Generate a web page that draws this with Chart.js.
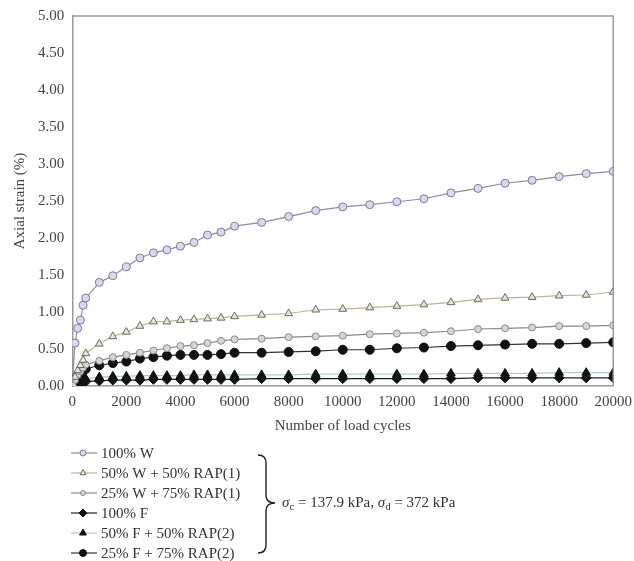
<!DOCTYPE html>
<html><head><meta charset="utf-8">
<script src="https://cdn.jsdelivr.net/npm/chart.js@4/dist/chart.umd.min.js"></script>
<style>html,body{margin:0;padding:0;background:#fff}#wrap{width:634px;height:561px}</style>
</head><body><div id="wrap"><canvas id="c" width="634" height="561"></canvas></div>
<script>
const cycles = [0,100,200,300,400,500,1000,1500,2000,2500,3000,3500,4000,4500,5000,5500,6000,7000,8000,9000,10000,11000,12000,13000,14000,15000,16000,17000,18000,19000,20000];
const w100 = [0,0.58,0.78,0.89,1.09,1.19,1.40,1.49,1.61,1.73,1.80,1.84,1.89,1.94,2.04,2.08,2.16,2.21,2.29,2.37,2.42,2.45,2.49,2.53,2.61,2.67,2.74,2.78,2.83,2.87,2.90];
const w50rap = [0,0.12,0.21,0.28,0.35,0.44,0.57,0.67,0.73,0.81,0.87,0.87,0.89,0.90,0.91,0.92,0.94,0.96,0.98,1.03,1.04,1.06,1.08,1.10,1.13,1.17,1.19,1.20,1.22,1.23,1.27];
const w25rap = [0,0.08,0.15,0.20,0.25,0.29,0.34,0.39,0.42,0.45,0.48,0.51,0.54,0.55,0.58,0.61,0.63,0.64,0.66,0.67,0.68,0.70,0.71,0.72,0.74,0.77,0.78,0.79,0.81,0.81,0.82];
const f100 = [0,0.03,0.04,0.05,0.06,0.06,0.07,0.08,0.08,0.08,0.09,0.09,0.09,0.09,0.09,0.09,0.09,0.10,0.10,0.10,0.10,0.10,0.10,0.10,0.10,0.11,0.11,0.11,0.11,0.11,0.11];
const f50rap = [0,0.05,0.07,0.08,0.09,0.10,0.12,0.13,0.13,0.14,0.14,0.14,0.14,0.15,0.15,0.15,0.15,0.15,0.15,0.16,0.16,0.16,0.16,0.16,0.17,0.17,0.17,0.17,0.18,0.18,0.18];
const f25rap = [0,0.09,0.14,0.18,0.21,0.23,0.28,0.31,0.33,0.37,0.39,0.41,0.42,0.42,0.42,0.43,0.45,0.45,0.46,0.47,0.49,0.49,0.51,0.52,0.54,0.55,0.56,0.57,0.57,0.58,0.59];
const seriesNames = ["100% W","50% W + 50% RAP(1)","25% W + 75% RAP(1)","100% F","50% F + 50% RAP(2)","25% F + 75% RAP(2)"];
const xTicks = [0,2000,4000,6000,8000,10000,12000,14000,16000,18000,20000];

const serif = "'Liberation Serif','DejaVu Serif',serif";
function pts(v){ return cycles.map((c,i)=>({x:c,y:v[i]})); }
const styles = [
  {line:'#8e8aa6', fill:'#ddd6ee', stroke:'#7f7a96', ps:'circle', r:4},
  {line:'#b9b98e', fill:'#e4e4dc', stroke:'#6a6a60', ps:'triangle', r:4.5},
  {line:'#8a8a8a', fill:'#d6d6d6', stroke:'#8a8a8a', ps:'circle', r:3.5},
  {line:'#222222', fill:'#111111', stroke:'#111111', ps:'rectRot', r:5},
  {line:'#a9cfc6', fill:'#111111', stroke:'#111111', ps:'triangle', r:5},
  {line:'#333333', fill:'#111111', stroke:'#111111', ps:'circle', r:4.5}
];
const vals = [w100,w50rap,w25rap,f100,f50rap,f25rap];
const datasets = vals.map((v,i)=>({
  label: seriesNames[i], data: pts(v),
  borderColor: styles[i].line, borderWidth: 1.2,
  pointStyle: styles[i].ps, pointRadius: styles[i].r,
  pointBackgroundColor: styles[i].fill, pointBorderColor: styles[i].stroke, pointBorderWidth: 1,
  tension: 0, fill:false
}));

const extras = {
  id:'extras',
  afterDraw(chart){
    const ctx = chart.ctx, a = chart.chartArea;
    ctx.save();
    ctx.strokeStyle = '#9a9a9a'; ctx.lineWidth = 1.5;
    ctx.beginPath(); ctx.moveTo(a.left, a.top); ctx.lineTo(a.right, a.top); ctx.lineTo(a.right, a.bottom); ctx.stroke();
    // legend
    const rowY0 = 453, dy = 20;
    chart.data.datasets.forEach((ds,i)=>{
      const y = rowY0 + i*dy;
      ctx.strokeStyle = ds.borderColor; ctx.lineWidth = 1.2;
      ctx.beginPath(); ctx.moveTo(71,y); ctx.lineTo(97,y); ctx.stroke();
      ctx.fillStyle = ds.pointBackgroundColor; ctx.strokeStyle = ds.pointBorderColor; ctx.lineWidth = 1;
      Chart.helpers.drawPoint(ctx,{pointStyle:ds.pointStyle, radius: ds.pointRadius-1, borderWidth:1}, 83, y);
      ctx.fillStyle = '#333'; ctx.font = '15px ' + serif; ctx.textBaseline = 'middle'; ctx.textAlign='left';
      ctx.fillText(ds.label, 101, y+1);
    });
    // brace
    ctx.strokeStyle = '#222'; ctx.lineWidth = 1.4;
    const bx = 258, top = 455, bot = 553, mid = 503, tip = 275, cx = 266;
    ctx.beginPath();
    ctx.moveTo(bx, top);
    ctx.quadraticCurveTo(cx, top, cx, top+8);
    ctx.lineTo(cx, mid-8);
    ctx.quadraticCurveTo(cx, mid, tip, mid);
    ctx.quadraticCurveTo(cx, mid, cx, mid+8);
    ctx.lineTo(cx, bot-8);
    ctx.quadraticCurveTo(cx, bot, bx, bot);
    ctx.stroke();
    // annotation
    ctx.fillStyle = '#333'; ctx.textBaseline = 'alphabetic';
    let x = 282; const by = 507;
    const put = (t, f, dyy=0)=>{ ctx.font = f; ctx.fillText(t, x, by+dyy); x += ctx.measureText(t).width; };
    put('σ', 'italic 15px ' + serif);
    put('c', '11px ' + serif, 3);
    put(' = 137.9 kPa, ', '15px ' + serif);
    put('σ', 'italic 15px ' + serif);
    put('d', '11px ' + serif, 3);
    put(' = 372 kPa', '15px ' + serif);
    ctx.restore();
  }
};

new Chart(document.getElementById('c'), {
  type:'line',
  data:{datasets},
  options:{
    responsive:false, animation:false,
    layout:{padding:{top:16, right:17, bottom:126, left:11}},
    plugins:{legend:{display:false}, tooltip:{enabled:false}},
    scales:{
      x:{type:'linear', min:0, max:20000,
        afterBuildTicks(s){ s.ticks = xTicks.map(v=>({value:v})); },
        grid:{display:false, drawTicks:true, tickLength:5, color:'#9a9a9a'},
        border:{display:true, color:'#9a9a9a', width:1.5},
        ticks:{color:'#444', font:{family:serif, size:15}, maxRotation:0, autoSkip:false, padding:2, callback:v=>String(v)},
        title:{display:true, text:'Number of load cycles', color:'#444', font:{family:serif, size:15}, padding:{top:4,bottom:0}}
      },
      y:{min:0, max:5,
        ticks:{stepSize:0.5, color:'#444', font:{family:serif, size:15}, padding:3, callback:v=>Number(v).toFixed(2)},
        grid:{display:false, drawTicks:true, tickLength:5},
        border:{display:true, color:'#9a9a9a', width:1.5},
        title:{display:true, text:'Axial strain (%)', color:'#444', font:{family:serif, size:15}, padding:{top:0,bottom:6}}
      }
    }
  },
  plugins:[extras]
});
</script></body></html>
